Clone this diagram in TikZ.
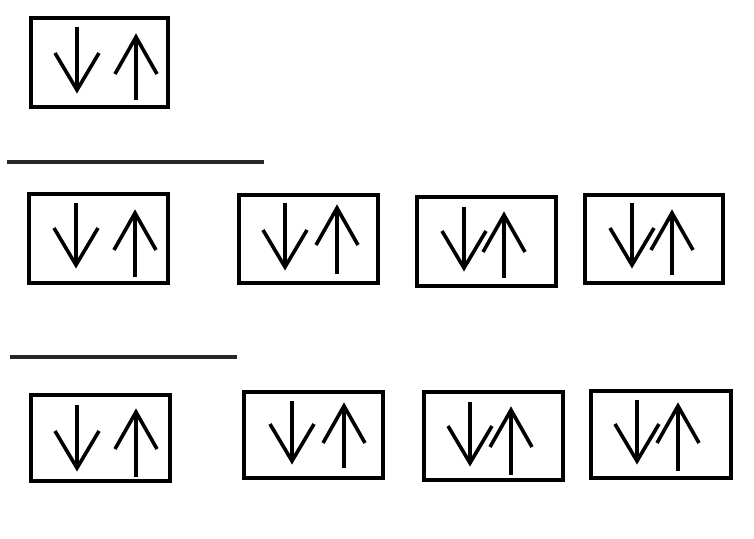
\documentclass[tikz,border=0pt]{standalone}
\usetikzlibrary{calc}
\tikzset{
  box/.style={draw=black, line width=2.9pt, inner sep=0pt, outer sep=0pt},
  arr/.style={draw=black, line width=2.7pt, line join=miter, line cap=butt},
  rule/.style={draw=black!85, line width=2.8pt},
}
\newcommand\bx[5]{\node[box, minimum width={(#4-#2-3.8)*0.75pt}, minimum height={(#5-#3-3.8)*0.75pt}] (#1) at ({(#2+#4)/2},{(#3+#5)/2}) {};}
\newcommand\dnarr[3]{\draw[arr] (#1,#2) -- (#1,#3); \draw[arr] ({#1-22},{#3-37}) -- (#1,#3) -- ({#1+22},{#3-37});}
\newcommand\uparr[3]{\draw[arr] (#1,#2) -- (#1,#3); \draw[arr] ({#1-21},{#3+37}) -- (#1,#3) -- ({#1+21},{#3+37});}
\begin{document}
\begin{tikzpicture}[x=0.75pt,y=-0.75pt]
\useasboundingbox (0,0) rectangle (754,539);
\fill[white] (0,0) rectangle (754,539);
% top box
\bx{b1}{29}{16}{170}{109}
\dnarr{77}{27}{90}
\uparr{136}{100}{37}
% first rule
\coordinate (l1a) at (7,162);
\coordinate (l1b) at (264,162);
\draw[rule] (l1a) -- (l1b);
% row 2
\bx{bA}{27}{192}{170}{285}
\dnarr{76}{203}{265}
\uparr{135}{277}{213}
\bx{bB}{237}{193}{380}{285}
\dnarr{285}{203}{267}
\uparr{337}{274}{208}
\bx{bC}{415}{195}{558}{288}
\dnarr{464}{207}{268}
\uparr{504}{278}{215}
\bx{bD}{583}{193}{725}{285}
\dnarr{632}{203}{265}
\uparr{672}{275}{213}
% second rule
\coordinate (l2a) at (10,357);
\coordinate (l2b) at (237,357);
\draw[rule] (l2a) -- (l2b);
% row 3
\bx{bE}{29}{393}{172}{483}
\dnarr{77}{405}{468}
\uparr{136}{477}{412}
\bx{bF}{242}{390}{385}{480}
\dnarr{292}{401}{461}
\uparr{344}{468}{406}
\bx{bG}{422}{390}{565}{482}
\dnarr{470}{402}{463}
\uparr{511}{475}{410}
\bx{bH}{589}{389}{733}{480}
\dnarr{637}{400}{461}
\uparr{678}{471}{406}
\end{tikzpicture}
\end{document}
